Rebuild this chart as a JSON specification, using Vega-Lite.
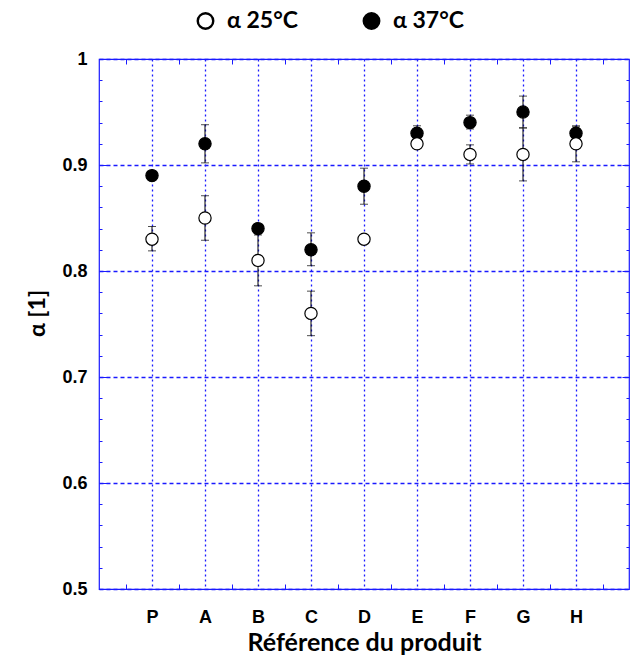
{
  "$schema": "https://vega.github.io/schema/vega-lite/v6.json",
  "autosize": "none",
  "width": 530,
  "height": 530,
  "padding": {"left": 99, "top": 59, "right": 14, "bottom": 71},
  "background": "white",
  "data": {
    "values": [
      {"product": "P", "pos": 1, "series": "α 37°C", "value": 0.89, "lo": 0.886, "hi": 0.894},
      {"product": "A", "pos": 2, "series": "α 37°C", "value": 0.92, "lo": 0.902, "hi": 0.938},
      {"product": "B", "pos": 3, "series": "α 37°C", "value": 0.84, "lo": 0.836, "hi": 0.844},
      {"product": "C", "pos": 4, "series": "α 37°C", "value": 0.82, "lo": 0.805, "hi": 0.836},
      {"product": "D", "pos": 5, "series": "α 37°C", "value": 0.88, "lo": 0.863, "hi": 0.897},
      {"product": "E", "pos": 6, "series": "α 37°C", "value": 0.93, "lo": 0.924, "hi": 0.937},
      {"product": "F", "pos": 7, "series": "α 37°C", "value": 0.94, "lo": 0.934, "hi": 0.947},
      {"product": "G", "pos": 8, "series": "α 37°C", "value": 0.95, "lo": 0.935, "hi": 0.965},
      {"product": "H", "pos": 9, "series": "α 37°C", "value": 0.93, "lo": 0.925, "hi": 0.936},
      {"product": "P", "pos": 1, "series": "α 25°C", "value": 0.83, "lo": 0.819, "hi": 0.842},
      {"product": "A", "pos": 2, "series": "α 25°C", "value": 0.85, "lo": 0.829, "hi": 0.871},
      {"product": "B", "pos": 3, "series": "α 25°C", "value": 0.81, "lo": 0.786, "hi": 0.834},
      {"product": "C", "pos": 4, "series": "α 25°C", "value": 0.76, "lo": 0.739, "hi": 0.781},
      {"product": "D", "pos": 5, "series": "α 25°C", "value": 0.83, "lo": 0.827, "hi": 0.833},
      {"product": "E", "pos": 6, "series": "α 25°C", "value": 0.92, "lo": 0.916, "hi": 0.924},
      {"product": "F", "pos": 7, "series": "α 25°C", "value": 0.91, "lo": 0.901, "hi": 0.919},
      {"product": "G", "pos": 8, "series": "α 25°C", "value": 0.91, "lo": 0.885, "hi": 0.935},
      {"product": "H", "pos": 9, "series": "α 25°C", "value": 0.92, "lo": 0.903, "hi": 0.937}
    ]
  },
  "resolve": {"axis": {"x": "independent", "y": "independent"}},
  "layer": [
    {
      "mark": {"type": "point", "opacity": 0},
      "encoding": {
        "x": {"field": "pos", "type": "quantitative", "scale": {"domain": [0, 10], "nice": false, "zero": false}, "axis": null},
        "y": {
          "field": "value", "type": "quantitative",
          "scale": {"domain": [0.5, 1], "nice": false, "zero": false},
          "axis": {
            "orient": "right",
            "values": [0.52, 0.54, 0.56, 0.58, 0.62, 0.64, 0.66, 0.68, 0.72, 0.74, 0.76, 0.78, 0.82, 0.84, 0.86, 0.88, 0.92, 0.94, 0.96, 0.98],
            "labels": false, "grid": false, "domain": false, "title": null,
            "tickColor": "#1a1aff", "tickWidth": 1, "tickSize": 3, "offset": -3
          }
        }
      }
    },
    {
      "mark": {"type": "rule", "color": "black", "strokeWidth": 1},
      "encoding": {
        "x": {
          "field": "pos", "type": "quantitative",
          "axis": {
            "orient": "bottom", "values": [1, 2, 3, 4, 5, 6, 7, 8, 9],
            "labelExpr": "['','P','A','B','C','D','E','F','G','H',''][datum.value]",
            "ticks": false, "domain": false,
            "grid": true, "gridColor": "#1a1aff", "gridDash": [2, 3], "gridWidth": 1.3,
            "labelFont": "Liberation Sans", "labelFontSize": 18, "labelFontWeight": "bold", "labelColor": "black",
            "labelPadding": 19,
            "title": "Référence du produit", "titleFont": "Lato", "titleFontSize": 25, "titleFontWeight": "bold",
            "titleColor": "black", "titlePadding": 4
          }
        },
        "y": {
          "field": "lo", "type": "quantitative",
          "axis": {
            "orient": "left", "values": [0.5, 0.6, 0.7, 0.8, 0.9, 1],
            "labelExpr": "datum.value == 1 ? '1' : format(datum.value, '.1f')",
            "ticks": false, "domain": false,
            "grid": true, "gridColor": "#1a1aff", "gridDash": [4, 3], "gridWidth": 1.5,
            "labelFont": "Liberation Sans", "labelFontSize": 18, "labelFontWeight": "bold", "labelColor": "black",
            "labelPadding": 12,
            "title": "α [1]", "titleFont": "Lato", "titleFontSize": 23, "titleFontWeight": "bold",
            "titleColor": "black", "titlePadding": 12, "titleY": 254
          }
        },
        "y2": {"field": "hi"}
      }
    },
    {
      "mark": {"type": "tick", "orient": "horizontal", "size": 8, "thickness": 1, "color": "black"},
      "encoding": {
        "x": {
          "field": "pos", "type": "quantitative",
          "axis": {
            "orient": "bottom", "values": [0.5, 1.5, 2.5, 3.5, 4.5, 5.5, 6.5, 7.5, 8.5, 9.5],
            "labels": false, "grid": false, "domain": false, "title": null,
            "tickColor": "#1a1aff", "tickSize": 5, "offset": -5, "tickWidth": 1
          }
        },
        "y": {
          "field": "lo", "type": "quantitative",
          "axis": {
            "orient": "left", "values": [0.6, 0.7, 0.8, 0.9],
            "labels": false, "grid": false, "domain": false, "title": null,
            "tickColor": "#1a1aff", "tickWidth": 1, "tickSize": 8, "offset": -8
          }
        }
      }
    },
    {
      "mark": {"type": "tick", "orient": "horizontal", "size": 8, "thickness": 1, "color": "black"},
      "encoding": {
        "x": {
          "field": "pos", "type": "quantitative",
          "axis": {
            "orient": "top", "values": [0.5, 1.5, 2.5, 3.5, 4.5, 5.5, 6.5, 7.5, 8.5, 9.5],
            "labels": false, "grid": false, "domain": false, "title": null,
            "tickColor": "#1a1aff", "tickSize": 5, "offset": -5, "tickWidth": 1
          }
        },
        "y": {
          "field": "hi", "type": "quantitative",
          "axis": {
            "orient": "right", "values": [0.6, 0.7, 0.8, 0.9],
            "labels": false, "grid": false, "domain": false, "title": null,
            "tickColor": "#1a1aff", "tickWidth": 1, "tickSize": 7, "offset": -7
          }
        }
      }
    },
    {
      "mark": {"type": "point", "shape": "circle", "size": 150, "stroke": "black", "strokeWidth": 1.2, "opacity": 1, "filled": false},
      "encoding": {
        "x": {"field": "pos", "type": "quantitative", "axis": null},
        "y": {
          "field": "value", "type": "quantitative",
          "axis": {
            "orient": "left",
            "values": [0.52, 0.54, 0.56, 0.58, 0.62, 0.64, 0.66, 0.68, 0.72, 0.74, 0.76, 0.78, 0.82, 0.84, 0.86, 0.88, 0.92, 0.94, 0.96, 0.98],
            "labels": false, "grid": false, "domain": false, "title": null,
            "tickColor": "#1a1aff", "tickWidth": 1, "tickSize": 3, "offset": -3
          }
        },
        "fill": {
          "field": "series", "type": "nominal",
          "scale": {"domain": ["α 25°C", "α 37°C"], "range": ["white", "black"]},
          "legend": {
            "orient": "none", "direction": "horizontal", "title": null,
            "legendX": 95, "legendY": -50,
            "symbolType": "circle", "symbolSize": 240, "symbolStrokeColor": "black", "symbolStrokeWidth": 2.4,
            "labelFont": "Lato", "labelFontSize": 23, "labelFontWeight": "bold", "labelColor": "black",
            "labelOffset": 10, "columnPadding": 60
          }
        },
        "order": {"field": "series", "sort": "descending"}
      }
    }
  ],
  "config": {
    "view": {"stroke": "#1a1aff", "strokeWidth": 1.2}
  }
}
